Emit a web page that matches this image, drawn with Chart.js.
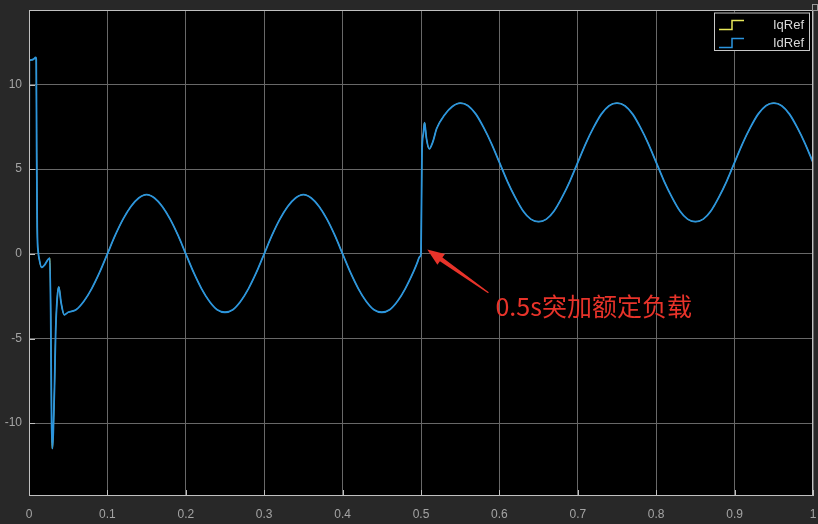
<!DOCTYPE html>
<html>
<head>
<meta charset="utf-8">
<script src="https://cdn.jsdelivr.net/npm/chart.js@4.4.0/dist/chart.umd.min.js"></script>
<style>
html, body { margin: 0; padding: 0; background: #282828; }
#wrap { width: 818px; height: 524px; }
</style>
</head>
<body>
<div id="wrap"><canvas id="scope" width="818" height="524"></canvas></div>
<script>
// --- Data ---
const timeS = [
    0, 0.0004, 0.003, 0.006, 0.0085, 0.0092, 0.0098, 0.0105, 0.0118, 0.013, 0.016, 0.02, 0.024, 0.0265,
    0.0277, 0.0288, 0.0298, 0.031, 0.0325, 0.034, 0.036, 0.038, 0.041, 0.045, 0.05,
    0.06, 0.07, 0.08, 0.09, 0.10, 0.11, 0.12, 0.13, 0.14, 0.15, 0.16, 0.17, 0.18, 0.19,
    0.20, 0.21, 0.22, 0.23, 0.24, 0.25, 0.26, 0.27, 0.28, 0.29,
    0.30, 0.31, 0.32, 0.33, 0.34, 0.35, 0.36, 0.37, 0.38, 0.39,
    0.40, 0.41, 0.42, 0.43, 0.44, 0.45, 0.46, 0.47, 0.48, 0.49, 0.495, 0.4985, 0.50,
    0.5012, 0.503, 0.5045, 0.507, 0.5105, 0.515, 0.52, 0.53, 0.54, 0.55, 0.56, 0.57, 0.58, 0.59,
    0.60, 0.61, 0.62, 0.63, 0.64, 0.65, 0.66, 0.67, 0.68, 0.69,
    0.70, 0.71, 0.72, 0.73, 0.74, 0.75, 0.76, 0.77, 0.78, 0.79,
    0.80, 0.81, 0.82, 0.83, 0.84, 0.85, 0.86, 0.87, 0.88, 0.89,
    0.90, 0.91, 0.92, 0.93, 0.94, 0.95, 0.96, 0.97, 0.98, 0.99, 1.00
];
const idRef = [
    0, 11.4, 11.45, 11.5, 11.6, 11.5, 6, 1.5, 0.1, -0.3, -0.8, -0.65, -0.35, -0.25,
    -3.5, -9.8, -11.5, -10.5, -7.9, -4.6, -2.6, -1.95, -2.9, -3.6, -3.45,
    -3.3, -2.8, -2.05, -1.1, 0, 1.1, 2.05, 2.8, 3.3, 3.5, 3.3, 2.8, 2.05, 1.1,
    0, -1.1, -2.05, -2.8, -3.3, -3.45, -3.3, -2.8, -2.05, -1.1,
    0, 1.1, 2.05, 2.8, 3.3, 3.5, 3.3, 2.8, 2.05, 1.1,
    0, -1.1, -2.05, -2.8, -3.3, -3.45, -3.3, -2.8, -2.05, -1.1, -0.55, -0.17, 0,
    5.9, 7.1, 7.75, 6.8, 6.2, 6.6, 7.4, 8.2, 8.7, 8.9, 8.75, 8.25, 7.45, 6.5,
    5.4, 4.3, 3.35, 2.55, 2.05, 1.9, 2.05, 2.55, 3.35, 4.3,
    5.4, 6.5, 7.45, 8.25, 8.75, 8.9, 8.75, 8.25, 7.45, 6.5,
    5.4, 4.3, 3.35, 2.55, 2.05, 1.9, 2.05, 2.55, 3.35, 4.3,
    5.4, 6.5, 7.45, 8.25, 8.75, 8.9, 8.75, 8.25, 7.45, 6.5, 5.4
];
const iqRef = idRef.slice(); // IqRef sits right under IdRef on the scope
const seriesNames = ['IqRef', 'IdRef'];
const xTickValues = [0, 0.1, 0.2, 0.3, 0.4, 0.5, 0.6, 0.7, 0.8, 0.9, 1];
const xTickLabels = ['0', '0.1', '0.2', '0.3', '0.4', '0.5', '0.6', '0.7', '0.8', '0.9', '1'];
const yTickValues = [-10, -5, 0, 5, 10];
const yTickLabels = ['-10', '-5', '0', '5', '10'];
const noteText = '0.5s突加额定负载';

const YELLOW = '#e8e85a';
const BLUE = '#2b95de';
const GRID = '#686868';
const FRAME = '#c0c0c0';
const LABEL = '#a4a4a4';

function toPoints(vals) {
    return timeS.map((t, i) => ({ x: t, y: vals[i] }));
}

// black plot area
const scopeBg = {
    id: 'scopeBg',
    beforeDraw(chart) {
        const a = chart.chartArea;
        chart.ctx.save();
        chart.ctx.fillStyle = '#000';
        chart.ctx.fillRect(a.left, a.top, a.right - a.left, a.bottom - a.top);
        chart.ctx.restore();
    }
};

// --- Frame, inward ticks, legend and note ---
const scopeDecor = {
    id: 'scopeDecor',
    afterDraw(chart) {
        const ctx = chart.ctx;
        const area = chart.chartArea;
        const xs = chart.scales.x;
        const ys = chart.scales.y;
        ctx.save();

        // frame
        ctx.strokeStyle = FRAME;
        ctx.lineWidth = 1;
        ctx.strokeRect(area.left + 0.5, area.top + 0.5, area.right - area.left - 1, area.bottom - area.top - 1);
        // little corner box of the scope window
        ctx.strokeStyle = '#9a9a9a';
        ctx.strokeRect(area.right - 0.5, 4.5, 5, 6);

        // inward ticks
        ctx.strokeStyle = FRAME;
        ctx.beginPath();
        xTickValues.forEach(v => {
            const px = Math.round(xs.getPixelForValue(v)) + 0.5;
            ctx.moveTo(px, area.bottom);
            ctx.lineTo(px, area.bottom - 6);
        });
        yTickValues.forEach(v => {
            const py = Math.round(ys.getPixelForValue(v)) + 0.5;
            ctx.moveTo(area.left, py);
            ctx.lineTo(area.left + 6, py);
        });
        ctx.stroke();

        // legend box
        const lx = 714, ly = 12.5, lw = 96, lh = 38.5;
        ctx.fillStyle = '#000';
        ctx.fillRect(lx, ly, lw, lh);
        ctx.strokeStyle = '#c8c8c8';
        ctx.strokeRect(lx + 0.5, ly + 0.5, lw - 1, lh - 1);
        const colors = [YELLOW, BLUE];
        seriesNames.forEach((name, i) => {
            const base = ly + 17 + i * 18;
            ctx.strokeStyle = colors[i];
            ctx.lineWidth = 1.5;
            ctx.beginPath();
            ctx.moveTo(lx + 5, base);
            ctx.lineTo(lx + 18, base);
            ctx.lineTo(lx + 18, base - 9);
            ctx.lineTo(lx + 30, base - 9);
            ctx.stroke();
            ctx.fillStyle = '#dadada';
            ctx.font = '13px "Liberation Sans", Arial, sans-serif';
            ctx.textAlign = 'right';
            ctx.textBaseline = 'middle';
            ctx.fillText(name, lx + lw - 6, base - 4.5);
        });

        // red arrow pointing at the load step
        const tipX = xs.getPixelForValue(0.508), tipY = ys.getPixelForValue(0.25);
        const tailX = xs.getPixelForValue(0.586), tailY = ys.getPixelForValue(-2.3);
        const dx = tipX - tailX, dy = tipY - tailY;
        const len = Math.hypot(dx, dy);
        const ux = dx / len, uy = dy / len;
        const nx = -uy, ny = ux;
        const headLen = 17, headW = 6.5, neckW = 2.2, tailW = 0.6;
        const hx = tipX - ux * headLen, hy = tipY - uy * headLen;
        ctx.fillStyle = '#e8332a';
        ctx.beginPath();
        ctx.moveTo(tipX, tipY);
        ctx.lineTo(hx + nx * headW, hy + ny * headW);
        ctx.lineTo(hx + nx * neckW, hy + ny * neckW);
        ctx.lineTo(tailX + nx * tailW, tailY + ny * tailW);
        ctx.lineTo(tailX - nx * tailW, tailY - ny * tailW);
        ctx.lineTo(hx - nx * neckW, hy - ny * neckW);
        ctx.lineTo(hx - nx * headW, hy - ny * headW);
        ctx.closePath();
        ctx.fill();

        ctx.font = '25px "Noto Sans CJK SC", sans-serif';
        ctx.textAlign = 'left';
        ctx.textBaseline = 'middle';
        ctx.fillText(noteText, xs.getPixelForValue(0.595), ys.getPixelForValue(-3.1));

        ctx.restore();
    }
};

const chart = new Chart(document.getElementById('scope').getContext('2d'), {
    type: 'line',
    data: {
        datasets: [
            { label: seriesNames[0], data: toPoints(iqRef), borderColor: YELLOW, borderWidth: 1, order: 1 },
            { label: seriesNames[1], data: toPoints(idRef), borderColor: BLUE, borderWidth: 1.8, order: 0 }
        ]
    },
    options: {
        responsive: false,
        animation: false,
        devicePixelRatio: 1,
        layout: { padding: { top: 10, right: 5, left: 0, bottom: 0 } },
        elements: {
            point: { radius: 0 },
            line: { cubicInterpolationMode: 'monotone', fill: false }
        },
        plugins: {
            legend: { display: false },
            tooltip: { enabled: false }
        },
        scales: {
            x: {
                type: 'linear',
                min: 0,
                max: 1,
                afterBuildTicks: s => { s.ticks = xTickValues.map(v => ({ value: v })); },
                afterFit: s => { s.height = 28; s.paddingLeft = 0; s.paddingRight = 0; },
                ticks: {
                    callback: (v, i) => xTickLabels[i],
                    color: LABEL,
                    font: { family: '"Liberation Sans", Arial, sans-serif', size: 12 },
                    padding: 11,
                    maxRotation: 0,
                    autoSkip: false
                },
                grid: { color: GRID, drawTicks: false },
                border: { display: false }
            },
            y: {
                type: 'linear',
                min: -14.3,
                max: 14.4,
                afterBuildTicks: s => { s.ticks = yTickValues.map(v => ({ value: v })); },
                afterFit: s => { s.width = 29; s.paddingTop = 0; s.paddingBottom = 0; },
                ticks: {
                    callback: (v, i) => yTickLabels[i],
                    color: LABEL,
                    font: { family: '"Liberation Sans", Arial, sans-serif', size: 12 },
                    padding: 7
                },
                grid: { color: GRID, drawTicks: false },
                border: { display: false }
            }
        }
    },
    plugins: [scopeBg, scopeDecor]
});
</script>
</body>
</html>
